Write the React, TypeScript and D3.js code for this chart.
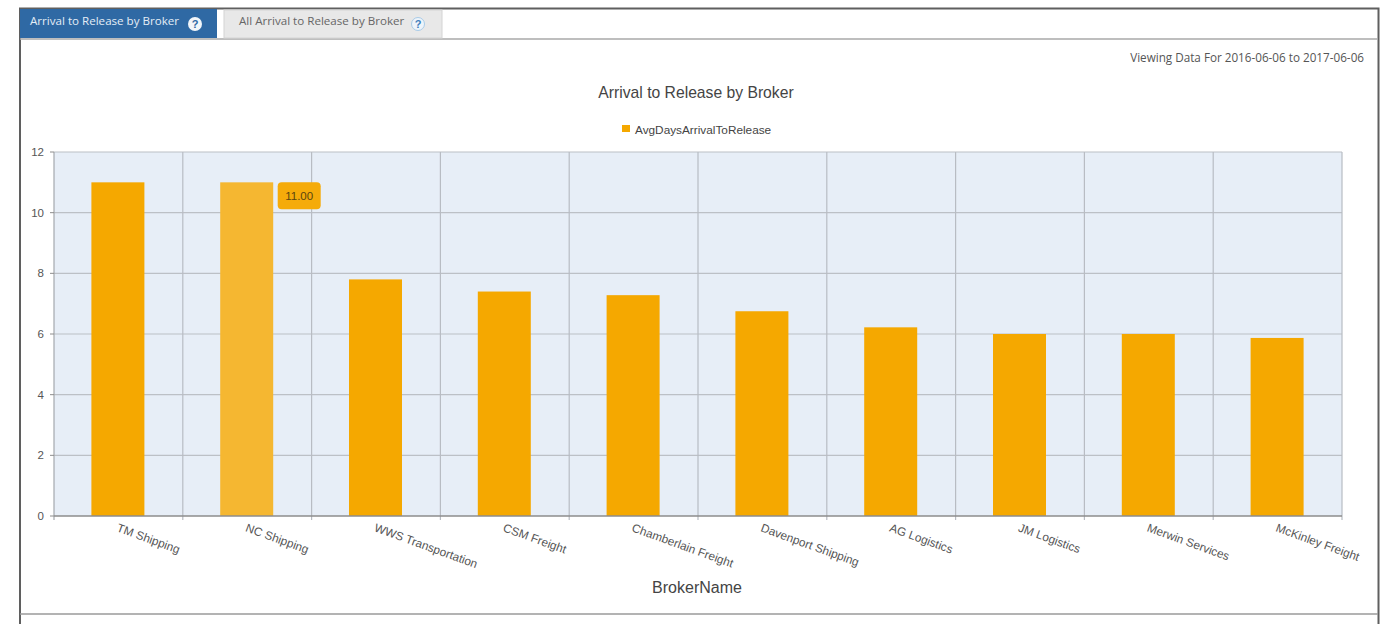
import { useEffect, useRef } from 'react';
import * as d3 from 'd3';

const brokers = [
  'TM Shipping',
  'NC Shipping',
  'WWS Transportation',
  'CSM Freight',
  'Chamberlain Freight',
  'Davenport Shipping',
  'AG Logistics',
  'JM Logistics',
  'Merwin Services',
  'McKinley Freight',
];
const avgDays = [11, 11, 7.8, 7.4, 7.28, 6.75, 6.22, 6, 6, 5.87];
const yTicks = [0, 2, 4, 6, 8, 10, 12];
const hoveredBroker = 'NC Shipping';

const width = 1381;
const height = 624;
const margin = { top: 152, right: 39, bottom: 108, left: 54 };
const FONT = 'Arial, "Liberation Sans", sans-serif';
const TAB_FONT = '"Open Sans", sans-serif';

const App = () => {
  const svgRef = useRef<SVGSVGElement | null>(null);

  useEffect(() => {
    if (!svgRef.current) return;
    const svg = d3.select(svgRef.current);
    svg.selectAll('*').remove();

    const x0 = margin.left;
    const x1 = width - margin.right;
    const y0 = height - margin.bottom;
    const y1 = margin.top;

    const x = d3.scaleBand<string>().domain(brokers).range([x0, x1]);
    const y = d3.scaleLinear().domain([0, 12]).range([y0, y1]);
    const barWidth = 53;

    // Page frame
    svg.append('rect').attr('width', width).attr('height', height).attr('fill', '#fff');
    svg.append('rect')
      .attr('x', 20).attr('y', 8.5).attr('width', 1358.5).attr('height', 620)
      .attr('fill', 'none').attr('stroke', '#5f5f5f').attr('stroke-width', 2);
    svg.append('line')
      .attr('x1', 20).attr('x2', 1378).attr('y1', 39).attr('y2', 39)
      .attr('stroke', '#a9a9a9').attr('stroke-width', 1.5);
    svg.append('line')
      .attr('x1', 20).attr('x2', 1378).attr('y1', 614).attr('y2', 614)
      .attr('stroke', '#9a9a9a').attr('stroke-width', 1.5);

    // Tabs
    svg.append('rect').attr('x', 20).attr('y', 9).attr('width', 197).attr('height', 29).attr('fill', '#2f69a4');
    svg.append('rect').attr('x', 224).attr('y', 10).attr('width', 218).attr('height', 28)
      .attr('fill', '#e8e8e8').attr('stroke', '#d4d4d4');
    svg.append('text').attr('x', 30).attr('y', 25).attr('font-size', 11.6).attr('fill', '#e4edf6')
      .attr('font-family', TAB_FONT).text('Arrival to Release by Broker');
    svg.append('circle').attr('cx', 195).attr('cy', 24).attr('r', 7).attr('fill', '#f2f6fa');
    svg.append('text').attr('x', 195).attr('y', 28).attr('text-anchor', 'middle').attr('font-size', 11)
      .attr('font-weight', 700).attr('fill', '#2f69a4').attr('font-family', FONT).text('?');
    svg.append('text').attr('x', 239).attr('y', 25).attr('font-size', 11.6).attr('fill', '#666')
      .attr('font-family', TAB_FONT).text('All Arrival to Release by Broker');
    svg.append('circle').attr('cx', 418).attr('cy', 24).attr('r', 6.5)
      .attr('fill', '#eef4fa').attr('stroke', '#a8cbe8');
    svg.append('text').attr('x', 418).attr('y', 28).attr('text-anchor', 'middle').attr('font-size', 11)
      .attr('font-weight', 700).attr('fill', '#3f7fbd').attr('font-family', FONT).text('?');

    svg.append('text').attr('x', 1364).attr('y', 62).attr('text-anchor', 'end').attr('font-size', 11.7)
      .attr('fill', '#555').attr('font-family', TAB_FONT)
      .text('Viewing Data For 2016-06-06 to 2017-06-06');

    // Title and legend
    svg.append('text').attr('x', 696).attr('y', 98).attr('text-anchor', 'middle').attr('font-size', 15.7)
      .attr('fill', '#444').attr('font-family', FONT).text('Arrival to Release by Broker');
    svg.append('rect').attr('x', 622).attr('y', 125).attr('width', 8).attr('height', 7).attr('fill', '#f5a800');
    svg.append('text').attr('x', 635).attr('y', 134).attr('font-size', 11.8).attr('fill', '#444')
      .attr('font-family', FONT).text('AvgDaysArrivalToRelease');

    // Plot background and grid
    svg.append('rect').attr('x', x0).attr('y', y1).attr('width', x1 - x0).attr('height', y0 - y1).attr('fill', '#e7eef7');
    yTicks.filter((t) => t > 0).forEach((t) => {
      svg.append('line')
        .attr('x1', x0).attr('x2', x1).attr('y1', y(t)).attr('y2', y(t))
        .attr('stroke', '#bcc0c6').attr('stroke-width', 1.2);
    });
    brokers.forEach((b) => {
      const bx = x(b)! + x.bandwidth();
      svg.append('line')
        .attr('x1', bx).attr('x2', bx).attr('y1', y1).attr('y2', y0 + 4)
        .attr('stroke', '#b8bcc3').attr('stroke-width', 1.2);
    });
    svg.append('line').attr('x1', x0).attr('x2', x0).attr('y1', y1).attr('y2', y0 + 4)
      .attr('stroke', '#a4a8ae').attr('stroke-width', 1.2);

    // Bars
    svg.append('g').selectAll('rect').data(brokers).join('rect')
      .attr('x', (b) => x(b)! + x.bandwidth() / 2 - barWidth / 2 - 0.5)
      .attr('y', (_, i) => y(avgDays[i]))
      .attr('width', barWidth)
      .attr('height', (_, i) => y0 - y(avgDays[i]))
      .attr('fill', (b) => (b === hoveredBroker ? '#f5b731' : '#f5a800'));

    // Axis lines and ticks
    svg.append('line').attr('x1', x0).attr('x2', x1).attr('y1', y0).attr('y2', y0)
      .attr('stroke', '#8c8c8c').attr('stroke-width', 1.4);
    const yAxis = svg.append('g');
    yTicks.forEach((t) => {
      yAxis.append('line').attr('x1', x0 - 4).attr('x2', x0).attr('y1', y(t)).attr('y2', y(t))
        .attr('stroke', '#8c8c8c');
      yAxis.append('text').attr('x', 44).attr('y', y(t) + 4).attr('text-anchor', 'end')
        .attr('font-size', 11.5).attr('fill', '#555').attr('font-family', FONT).text(t);
    });

    // Slanted category labels
    svg.append('g').selectAll('text').data(brokers).join('text')
      .attr('transform', (b) => `translate(${x(b)! + x.bandwidth() / 2 - 2.5},531) rotate(20)`)
      .attr('text-anchor', 'start')
      .attr('font-size', 11.8)
      .attr('fill', '#555')
      .attr('font-family', FONT)
      .text((b) => b);

    svg.append('text').attr('x', 697).attr('y', 593).attr('text-anchor', 'middle').attr('font-size', 16)
      .attr('fill', '#444').attr('font-family', FONT).text('BrokerName');

    // Hover tooltip
    const hovered = brokers.indexOf(hoveredBroker);
    const tipX = x(hoveredBroker)! + x.bandwidth() / 2 + barWidth / 2 + 4;
    const tipY = y(avgDays[hovered]);
    svg.append('rect').attr('x', tipX).attr('y', tipY).attr('width', 43).attr('height', 27).attr('rx', 4)
      .attr('fill', '#f5ab0a');
    svg.append('text').attr('x', tipX + 21.5).attr('y', tipY + 18).attr('text-anchor', 'middle')
      .attr('font-size', 11.5).attr('fill', '#5a4510').attr('font-family', FONT)
      .text(avgDays[hovered].toFixed(2));
  }, []);

  return (
    <svg
      ref={svgRef}
      width={width}
      height={height}
      style={{ position: 'absolute', left: 0, top: 0, display: 'block' }}
    />
  );
};

export default App;
